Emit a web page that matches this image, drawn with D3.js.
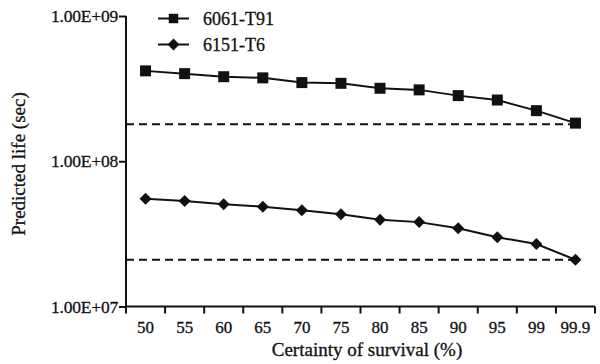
<!DOCTYPE html>
<html>
<head>
<meta charset="utf-8">
<script src="https://cdn.jsdelivr.net/npm/d3@7"></script>
<style>
    body { margin: 0; background: #fff; }
    .axis path, .axis line { stroke: #111; stroke-width: 2px; }
</style>
</head>
<body>
<div id="container"></div>
<script>
"use strict";

var categories = ["50", "55", "60", "65", "70", "75", "80", "85", "90", "95", "99", "99.9"];
var t91Values = [4.19e8, 4.01e8, 3.82e8, 3.75e8, 3.48e8, 3.44e8, 3.18e8, 3.10e8, 2.83e8, 2.64e8, 2.23e8, 1.83e8];
var t6Values = [5.51e7, 5.33e7, 5.06e7, 4.87e7, 4.60e7, 4.32e7, 3.95e7, 3.81e7, 3.46e7, 3.00e7, 2.69e7, 2.10e7];
var refLines = [1.8e8, 2.1e7];
var yTicks = [1e7, 1e8, 1e9];
var yTickLabels = ["1.00E+07", "1.00E+08", "1.00E+09"];
var seriesNames = ["6061-T91", "6151-T6"];

var width = 600, height = 364;
var plot = { left: 126, right: 595, top: 16, bottom: 306.5 };

var svg = d3.select("#container").append("svg")
    .attr("width", width)
    .attr("height", height);

var x = d3.scaleBand().domain(categories).range([plot.left, plot.right]).padding(0);
var y = d3.scaleLog().domain([1e7, 1e9]).range([plot.bottom, plot.top]);

// Times-like text, slightly heavier like the scanned figure
function serifText(sel, size) {
    sel.attr("font-family", null)
        .style("font-family", "'Liberation Serif', serif")
        .style("font-size", size + "px")
        .style("fill", "#111")
        .style("stroke", "#111")
        .style("stroke-width", "0.3px");
}

// reference dashed lines
svg.selectAll(".ref")
    .data(refLines)
    .enter().append("line")
        .attr("class", "ref")
        .attr("x1", plot.left)
        .attr("x2", x("99.9") + x.bandwidth() / 2)
        .attr("y1", function(d) { return y(d); })
        .attr("y2", function(d) { return y(d); })
        .attr("stroke", "#111")
        .attr("stroke-width", 2)
        .attr("stroke-dasharray", "8,5");

// x axis: labels centred in bands, ticks on band edges
var xAxis = svg.append("g")
    .attr("class", "axis axis--x")
    .attr("transform", "translate(0," + plot.bottom + ")")
    .call(d3.axisBottom(x).tickSize(0).tickPadding(14));
xAxis.attr("font-family", null).attr("font-size", null);
xAxis.select(".domain").attr("d", "M" + plot.left + ",0H" + plot.right);
xAxis.selectAll("text").call(serifText, 17);
xAxis.selectAll(".edge")
    .data(categories.concat(["end"]))
    .enter().append("line")
        .attr("class", "edge")
        .attr("x1", function(d) { return d === "end" ? plot.right : x(d); })
        .attr("x2", function(d) { return d === "end" ? plot.right : x(d); })
        .attr("y1", 0)
        .attr("y2", 7);

var yAxis = svg.append("g")
    .attr("class", "axis axis--y")
    .attr("transform", "translate(" + plot.left + ",0)")
    .call(d3.axisLeft(y).tickValues(yTicks).tickSize(7).tickPadding(1)
        .tickFormat(function(d, i) { return yTickLabels[i]; }));
yAxis.attr("font-family", null).attr("font-size", null);
yAxis.select(".domain").attr("d", "M0," + plot.bottom + "V" + plot.top);
yAxis.selectAll("text").call(serifText, 17.5).style("letter-spacing", "-0.2px");

var line = d3.line()
    .x(function(d, i) { return x(categories[i]) + x.bandwidth() / 2; })
    .y(function(d) { return y(d); });

var squareSym = d3.symbol().type(d3.symbolSquare).size(121);
var diamondSym = d3.symbol().type(d3.symbolSquare).size(72);

function drawSeries(values, sym, rotate) {
    svg.append("path")
        .datum(values)
        .attr("fill", "none")
        .attr("stroke", "#111")
        .attr("stroke-width", 2)
        .attr("d", line);
    svg.selectAll(null)
        .data(values)
        .enter().append("path")
            .attr("fill", "#111")
            .attr("d", sym)
            .attr("transform", function(d, i) {
                return "translate(" + (x(categories[i]) + x.bandwidth() / 2) + "," + y(d) + ")" +
                    (rotate ? " rotate(45)" : "");
            });
}

drawSeries(t91Values, squareSym, false);
drawSeries(t6Values, diamondSym, true);

// legend
var legend = svg.append("g").attr("transform", "translate(158,18.5)");
var legendSyms = [d3.symbol().type(d3.symbolSquare).size(90), d3.symbol().type(d3.symbolSquare).size(70)];
seriesNames.forEach(function(name, i) {
    var g = legend.append("g").attr("transform", "translate(0," + (i * 26) + ")");
    g.append("line").attr("x1", 0).attr("x2", 31).attr("stroke", "#111").attr("stroke-width", 2);
    g.append("path").attr("d", legendSyms[i]).attr("fill", "#111")
        .attr("transform", "translate(15.5,0)" + (i === 1 ? " rotate(45)" : ""));
    g.append("text").attr("x", 45).attr("dy", "0.38em")
        .call(serifText, 18).text(name);
});

// axis titles
svg.append("text")
    .attr("transform", "translate(25,164) rotate(-90)")
    .attr("text-anchor", "middle")
    .call(serifText, 19)
    .text("Predicted life (sec)");

svg.append("text")
    .attr("x", 367)
    .attr("y", 356)
    .attr("text-anchor", "middle")
    .call(serifText, 19)
    .text("Certainty of survival (%)");
</script>
</body>
</html>
